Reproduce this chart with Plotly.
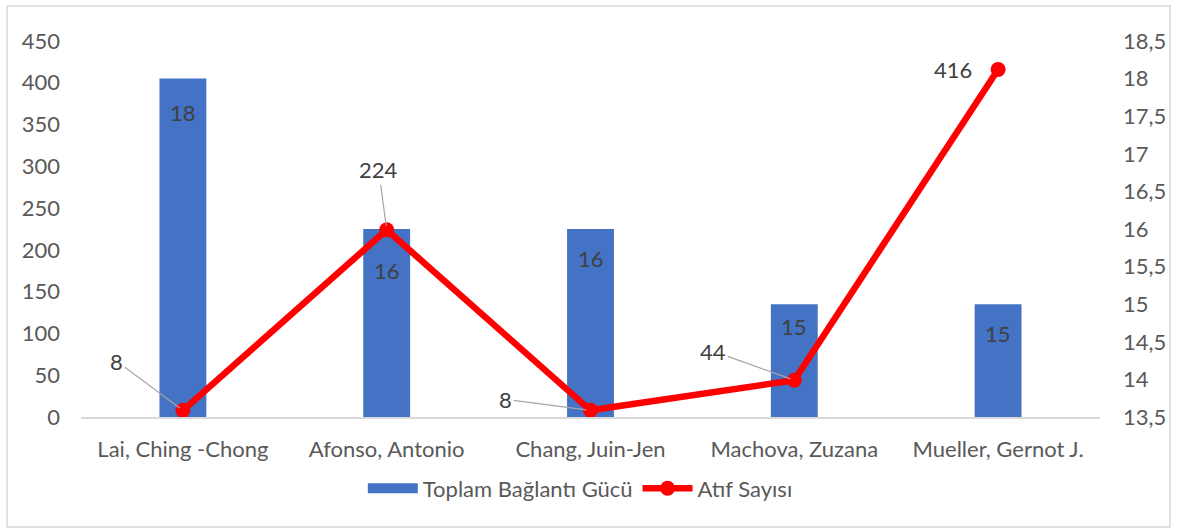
import plotly.graph_objects as go

categories = ["Lai, Ching -Chong", "Afonso, Antonio", "Chang, Juin-Jen", "Machova, Zuzana", "Mueller, Gernot J."]
baglanti = [18, 16, 16, 15, 15]          # Toplam Bağlantı Gücü (bars, right axis)
atif = [8, 224, 8, 44, 416]              # Atıf Sayısı (line, left axis)
left_ticks = [0, 50, 100, 150, 200, 250, 300, 350, 400, 450]
right_ticks = [13.5, 14, 14.5, 15, 15.5, 16, 16.5, 17, 17.5, 18, 18.5]

# label styling (pixel offsets)
bar_label_shift = [-34, -41, -29, -22, -29]
line_label_ax = [-66, -8, -85, -81, -45]
line_label_ay = [-49, -60, -11, -29, 0]
line_label_arrow = [True, True, True, True, False]

FONT = "Lato"
GREY = "#595959"
LABEL = "#404040"
BLUE = "#4472C4"
RED = "#FF0000"

fig = go.Figure()
fig.add_trace(go.Bar(
    x=categories, y=baglanti, name="Toplam Bağlantı Gücü",
    marker=dict(color=BLUE, line=dict(width=0)), yaxis="y", showlegend=False,
))
# legend-only entry drawn as a wide rectangle (like the Excel legend key)
fig.add_trace(go.Scatter(
    x=[None], y=[None], name="Toplam Bağlantı Gücü", mode="lines",
    line=dict(color=BLUE, width=14), yaxis="y", hoverinfo="skip",
))
fig.add_trace(go.Scatter(
    x=categories, y=atif, name="Atıf Sayısı", mode="lines+markers",
    line=dict(color=RED, width=6.5), marker=dict(color=RED, size=15),
    yaxis="y2",
))

annotations = []
for c, v, s in zip(categories, baglanti, bar_label_shift):
    annotations.append(dict(x=c, y=v, xref="x", yref="y", text=str(v), showarrow=False,
                            yshift=s, font=dict(family=FONT, size=22, color=LABEL)))
for c, v, ax, ay, arr in zip(categories, atif, line_label_ax, line_label_ay, line_label_arrow):
    if arr:
        annotations.append(dict(x=c, y=v, xref="x", yref="y2", text=str(v), showarrow=True,
                                ax=ax, ay=ay, arrowhead=0, arrowwidth=1.2, arrowcolor="#A6A6A6",
                                standoff=4, font=dict(family=FONT, size=22, color=LABEL)))
    else:
        annotations.append(dict(x=c, y=v, xref="x", yref="y2", text=str(v), showarrow=False,
                                xshift=ax, yshift=ay, font=dict(family=FONT, size=22, color=LABEL)))

fig.update_layout(
    width=1177, height=532,
    margin=dict(l=81, r=77, t=41, b=115),
    paper_bgcolor="white", plot_bgcolor="white",
    separators=", ",
    font=dict(family=FONT, size=22, color=GREY),
    bargap=0.77,
    showlegend=True,
    legend=dict(orientation="h", x=0.49, xanchor="center", y=-0.19, yanchor="middle",
                font=dict(family=FONT, size=22, color=GREY), itemwidth=50,
                traceorder="normal"),
    xaxis=dict(showline=True, linecolor="#D9D9D9", linewidth=1.5, showgrid=False,
               ticks="", ticklabelstandoff=12, tickfont=dict(family=FONT, size=22, color=GREY)),
    yaxis=dict(side="right", range=[13.5, 18.5], tickvals=right_ticks, showgrid=False,
               zeroline=False, showline=False, ticks="", ticklabelstandoff=22,
               tickfont=dict(family=FONT, size=22, color=GREY)),
    yaxis2=dict(side="left", overlaying="y", range=[0, 450], tickvals=left_ticks,
                showgrid=False, zeroline=False, showline=False, ticks="", ticklabelstandoff=20,
                tickfont=dict(family=FONT, size=22, color=GREY)),
    annotations=annotations,
    shapes=[dict(type="rect", xref="paper", yref="paper", x0=-0.0726, x1=1.0687,
                 y0=-0.2926, y1=1.093, line=dict(color="#D9D9D9", width=1.5),
                 fillcolor="rgba(0,0,0,0)", layer="below")],
)

fig.write_html("out.html", post_script="document.body.style.margin='0';",
               config={"displayModeBar": False})
